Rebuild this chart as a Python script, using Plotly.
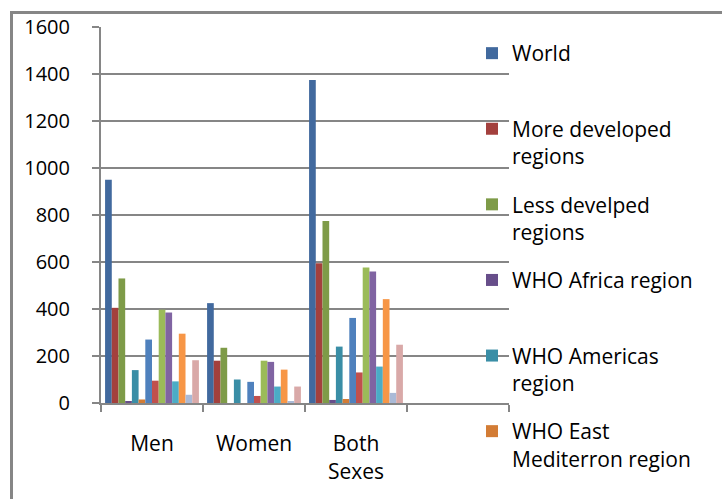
import plotly.graph_objects as go

categories = ["Men", "Women", "Both<br>Sexes"]
all_categories = ["Men", "Women", "Both<br>Sexes", " "]

series_names = [
    "World<br> ",
    "More developed<br>regions",
    "Less develped<br>regions",
    "WHO Africa region<br> ",
    "WHO Americas<br>region",
    "WHO East<br>Mediterron region",
    "WHO Europe region",
    "WHO South-East Asia region",
    "WHO Western Pacific region",
    "Series 10",
    "Series 11",
    "Series 12",
    "Series 13",
    "Series 14",
]

world = [950, 425, 1375]
more_developed = [405, 180, 595]
less_developed = [530, 235, 775]
who_africa = [5, 0, 13]
who_americas = [140, 100, 240]
who_east_med = [15, 0, 17]
series_7 = [270, 90, 362]
series_8 = [95, 30, 130]
series_9 = [397, 180, 577]
series_10 = [385, 175, 560]
series_11 = [92, 70, 155]
series_12 = [295, 142, 442]
series_13 = [35, 5, 43]
series_14 = [182, 70, 248]

values = [world, more_developed, less_developed, who_africa, who_americas,
          who_east_med, series_7, series_8, series_9, series_10, series_11,
          series_12, series_13, series_14]

colors = ["#41699E", "#A3403D", "#7E9B48", "#674E8A", "#3A8EA6", "#D37C35",
          "#4F81BD", "#C0504D", "#9BBB59", "#8064A2", "#4BACC6", "#F79646",
          "#AABAD7", "#D9A9A8"]

fig = go.Figure()
for i, (name, vals, col) in enumerate(zip(series_names, values, colors)):
    fig.add_trace(go.Bar(
        x=categories, y=vals, name=name,
        marker=dict(color=col, line=dict(width=0)),
        legendgroup="g%d" % i,
        showlegend=(i < 6),
    ))

W, H = 722, 499
L, R, T, B = 101, 213, 27, 96
pw, ph = W - L - R, H - T - B

def px_x(x):
    return (x - L) / pw

def px_y(y):
    return (H - B - y) / ph

grid = "#868686"
fig.update_layout(
    width=W, height=H,
    margin=dict(l=L, r=R, t=T, b=B),
    paper_bgcolor="white", plot_bgcolor="white",
    barmode="group", bargap=0.08, bargroupgap=0,
    font=dict(family="Open Sans", size=20, color="#000000"),
    xaxis=dict(
        type="category", categoryorder="array", categoryarray=all_categories,
        range=[-0.5, 3.5],
        showline=True, linecolor=grid, linewidth=2,
        ticks="outside", tickson="boundaries", ticklen=7, tickcolor=grid, tickwidth=2,
        ticklabelstandoff=21, showgrid=False,
        tickfont=dict(family="Open Sans", size=21, color="#000000"),
    ),
    yaxis=dict(
        range=[0, 1600], dtick=200, tick0=0,
        showline=True, linecolor=grid, linewidth=2,
        ticks="outside", ticklen=7, tickcolor=grid, tickwidth=2,
        ticklabelstandoff=18,
        showgrid=True, gridcolor=grid, gridwidth=1.5,
        zeroline=False,
        tickfont=dict(family="Open Sans", size=20, color="#000000"),
    ),
    legend=dict(
        x=px_x(472), xanchor="left", y=px_y(33), yanchor="top",
        bgcolor="rgba(0,0,0,0)", borderwidth=0,
        traceorder="grouped", tracegroupgap=18, valign="top",
        maxheight=480,
        font=dict(family="Open Sans", size=21, color="#000000"),
    ),
    shapes=[dict(
        type="rect", xref="paper", yref="paper",
        x0=px_x(11.5), x1=px_x(735), y0=px_y(515), y1=px_y(12.5),
        line=dict(color=grid, width=3), fillcolor="rgba(0,0,0,0)", layer="above",
    )],
)

fig.write_html("out.html")
